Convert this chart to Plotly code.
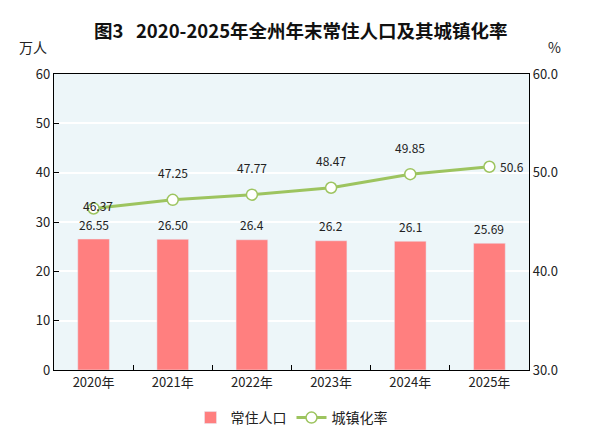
import plotly.graph_objects as go

years = ["2020年", "2021年", "2022年", "2023年", "2024年", "2025年"]
population = [26.55, 26.50, 26.4, 26.2, 26.1, 25.69]
pop_labels = ["26.55", "26.50", "26.4", "26.2", "26.1", "25.69"]
urban_rate = [46.37, 47.25, 47.77, 48.47, 49.85, 50.6]
rate_labels = ["46.37", "47.25", "47.77", "48.47", "49.85", "50.6"]

font_cn = "Noto Sans CJK SC"

fig = go.Figure()
fig.add_trace(go.Bar(x=years, y=population, name="常住人口",
                     marker_color="#FF7F7F", width=0.4))
fig.add_trace(go.Scatter(x=years, y=urban_rate, name="城镇化率", yaxis="y2",
                         mode="lines+markers",
                         line=dict(color="#9DC45F", width=3),
                         marker=dict(size=11, color="white",
                                     line=dict(color="#9DC45F", width=1.5))))

anns = []
for yr, v, t in zip(years, population, pop_labels):
    anns.append(dict(x=yr, y=v, xref="x", yref="y", text=t, showarrow=False,
                     yshift=15, font=dict(size=12, color="#222")))
for i, (yr, v, t) in enumerate(zip(years, urban_rate, rate_labels)):
    a = dict(x=yr, y=v, xref="x", yref="y2", text=t, showarrow=False,
             font=dict(size=12, color="#222"))
    if i == 0:
        a["xshift"] = 4
        a["yshift"] = 3
    elif i == len(years) - 1:
        a["xanchor"] = "left"
        a["xshift"] = 9
    else:
        a["yshift"] = 27
    anns.append(a)

# unit labels above the two axes
anns.append(dict(x=-0.044, y=1.091, xref="paper", yref="paper", text="万人",
                 xanchor="center", yanchor="middle", showarrow=False,
                 font=dict(size=14, family=font_cn, color="#222")))
anns.append(dict(x=1.053, y=1.091, xref="paper", yref="paper", text="%",
                 xanchor="center", yanchor="middle", showarrow=False,
                 font=dict(size=14, color="#222")))

fig.update_layout(
    width=574, height=428,
    margin=dict(l=46, r=53, t=66, b=66, autoexpand=False),
    title=dict(text="<b>图3   2020-2025年全州年末常住人口及其城镇化率</b>",
               x=0.51, xanchor="center", y=0.944, yanchor="middle",
               font=dict(size=18.5, family=font_cn, color="#111")),
    paper_bgcolor="white",
    plot_bgcolor="#EDF6F9",
    font=dict(family=font_cn, color="#222"),
    xaxis=dict(showline=True, linecolor="black", linewidth=1.2, mirror=True,
               ticks="inside", tickson="boundaries", ticklen=5,
               tickcolor="black", tickfont=dict(size=13)),
    yaxis=dict(range=[0, 60], dtick=10, showgrid=True, gridcolor="white",
               gridwidth=1.5, showline=True, linecolor="black", linewidth=1.2,
               ticks="inside", ticklen=5, tickcolor="black",
               tickfont=dict(size=13), zeroline=False),
    yaxis2=dict(range=[30, 60], dtick=10, overlaying="y", side="right",
                showgrid=False, showline=True, linecolor="black",
                linewidth=1.2, tickformat=".1f", tickfont=dict(size=13),
                zeroline=False),
    bargap=0.6,
    showlegend=True,
    legend=dict(orientation="h", x=0.5, xanchor="center", y=-0.162,
                yanchor="middle", font=dict(size=14, family=font_cn),
                itemwidth=30),
    annotations=anns,
)

fig.write_html("out.html")
